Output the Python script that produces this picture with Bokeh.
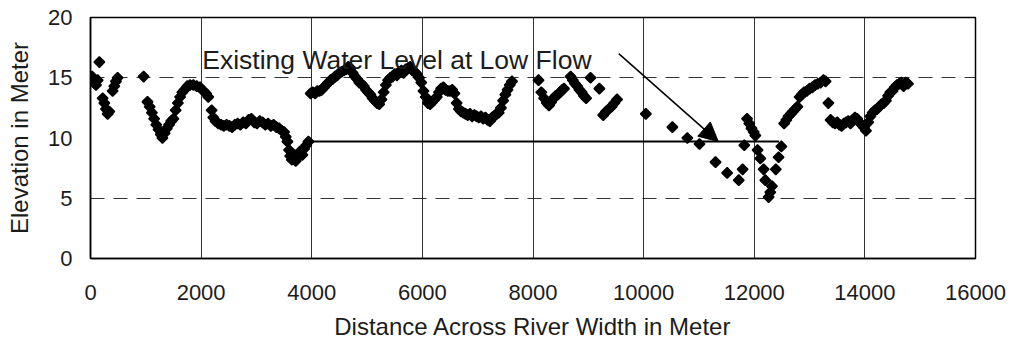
from bokeh.plotting import figure
from bokeh.models import Range1d, FixedTicker, Label, Arrow, NormalHead
from bokeh.embed import file_html
from bokeh.resources import INLINE

# Surveyed bed elevation across the river (distance in m, elevation in m)
dist_m = [
    0, 30, 60, 100, 130, 160,
    220, 250, 280, 310, 340,
    400, 430, 460, 490,
    960,
    1030, 1070, 1110, 1150, 1190, 1230, 1270, 1300,
    1340, 1380, 1420, 1460, 1500,
    1540, 1580, 1620, 1660, 1700, 1750, 1800, 1860, 1920, 1980, 2040, 2090, 2130,
    2190, 2220,
    2260, 2310, 2360, 2410, 2460, 2510, 2560, 2610, 2660, 2710, 2760, 2810, 2860,
    2910, 2960, 3010, 3060, 3110, 3160, 3210, 3260, 3310, 3360, 3410, 3460, 3500,
    3530, 3560, 3590, 3610, 3640, 3680, 3710, 3750, 3790, 3830, 3860, 3900, 3940,
    3980, 4020, 4060, 4100, 4140, 4180, 4220, 4260, 4300, 4340, 4380, 4420, 4460,
    4500, 4540, 4580, 4620, 4660, 4700, 4740, 4780, 4820, 4860, 4900, 4940, 4980,
    5020, 5060, 5100, 5140, 5180, 5220, 5260, 5300, 5340, 5380, 5420, 5460, 5500,
    5540, 5580, 5620, 5660, 5700, 5740, 5780, 5820, 5860, 5900, 5940, 5980,
    6020, 6060, 6100, 6140, 6180, 6220, 6260, 6300, 6340, 6380, 6420, 6460, 6500,
    6540, 6580, 6620, 6660, 6700, 6740, 6780, 6820, 6860, 6900, 6940, 6980, 7020,
    7060, 7100, 7140, 7180, 7220, 7260, 7300, 7340, 7380, 7420, 7460, 7500, 7540,
    7580, 7620,
    8100, 8150, 8200, 8250, 8290, 8330, 8370, 8410, 8450, 8490, 8530, 8560,
    8680, 8720, 8760, 8800, 8840, 8880, 8920, 8960,
    9040, 9200,
    9270, 9320, 9370, 9420, 9470, 9520,
    10040, 10520, 10790, 11010, 11300, 11510, 11720, 11790, 11820,
    11870, 11910, 11950, 11990, 12020, 12060, 12110, 12170, 12200,
    12260, 12290, 12320, 12390, 12440, 12490,
    12540, 12580, 12620, 12660, 12700, 12740, 12780,
    12820, 12860, 12900, 12950, 13000, 13050, 13100, 13150, 13200, 13250, 13290,
    13340,
    13380, 13420, 13460, 13500, 13540, 13580, 13620, 13660, 13700, 13740, 13780,
    13820, 13860, 13900, 13940, 13980, 14020,
    14060, 14100, 14140, 14180, 14220, 14260, 14300, 14340, 14380, 14420, 14460,
    14500, 14540, 14580, 14620, 14660, 14700, 14740, 14780,
]
elev_m = [
    14.9, 15.1, 14.6, 14.4, 14.8, 16.3,
    13.3, 12.9, 12.4, 12.0, 12.2,
    13.9, 14.3, 14.7, 15.0,
    15.1,
    13.0, 12.6, 12.1, 11.6, 11.1, 10.7, 10.3, 10.0,
    10.4, 10.8, 11.1, 11.4, 11.6,
    12.3, 12.9, 13.4, 13.8, 14.0, 14.3, 14.4, 14.4, 14.3, 14.2, 13.9, 13.7, 13.4,
    12.3, 11.7,
    11.4, 11.2, 11.1, 11.0, 11.1, 11.0, 10.9, 11.1, 11.2, 11.1, 11.3, 11.2, 11.5,
    11.6, 11.3, 11.2, 11.4, 11.3, 11.1, 11.2, 11.0, 11.1, 10.9, 10.8, 10.6, 10.5,
    10.1, 9.7, 9.0, 8.5, 8.2, 8.6, 8.1, 8.5, 8.9, 8.6, 9.1, 9.4, 9.7,
    13.7, 13.8, 13.7, 13.9, 13.9, 14.0, 14.2, 14.4, 14.6, 14.8, 14.9, 15.1, 15.2,
    15.4, 15.5, 15.6, 15.7, 15.9, 15.8, 15.4, 15.1, 14.9, 14.6, 14.5, 14.3, 14.0,
    13.8, 13.6, 13.3, 13.1, 12.9, 12.8, 13.2, 13.8, 14.4, 14.8, 15.0, 15.1, 15.3,
    15.2, 15.5, 15.6, 15.4, 15.7, 15.8, 15.9, 15.6, 15.5, 15.3, 15.0, 14.6,
    13.9, 13.4, 12.9, 12.8, 13.0, 13.2, 13.4, 13.8, 14.1, 14.2, 14.0, 13.9, 13.9,
    14.0, 13.7, 12.9, 12.4, 12.2, 12.1, 12.0, 11.9, 12.0, 11.8, 11.9, 11.8, 11.7,
    11.8, 11.6, 11.7, 11.5, 11.4, 11.7, 11.8, 12.0, 12.1, 12.5, 13.1, 13.6, 14.0,
    14.4, 14.7,
    14.8, 13.8, 13.3, 12.9, 12.7, 13.0, 13.3, 13.5, 13.6, 13.8, 14.0, 14.1,
    15.1, 14.8, 14.5, 14.3, 14.0, 13.8, 13.5, 13.3,
    15.0, 14.1,
    11.9, 12.2, 12.4, 12.6, 12.9, 13.2,
    12.0, 10.9, 10.0, 9.5, 8.0, 7.1, 6.5, 7.4, 9.4,
    11.6, 11.2, 10.8, 10.5, 10.2, 9.0, 8.3, 7.4, 6.5,
    5.1, 5.5, 6.0, 7.4, 8.4, 9.3,
    11.2, 11.5, 11.8, 12.0, 12.2, 12.4, 12.6,
    13.4, 13.6, 13.8, 13.9, 14.1, 14.2, 14.4, 14.5, 14.6, 14.8, 14.7,
    12.9,
    11.5, 11.3, 11.2, 11.3, 11.1, 11.0, 11.2, 11.3, 11.4, 11.2, 11.5,
    11.7, 11.6, 11.3, 11.1, 10.9, 10.6,
    11.3, 11.8, 12.1, 12.3, 12.4, 12.6, 12.8, 12.9, 13.1, 13.5, 13.8,
    13.9, 14.2, 14.4, 14.5, 14.6, 14.3, 14.6, 14.5,
]

# Existing water level at low flow
water_x = [3950, 12450]
water_y = [9.7, 9.7]

x_ticks = [0, 2000, 4000, 6000, 8000, 10000, 12000, 14000, 16000]
y_ticks = [0, 5, 10, 15, 20]
y_grid_levels = [5, 15]

FONT = "Liberation Sans"
INK = "#1c1c1c"

p = figure(width=1012, height=345, output_backend="svg", toolbar_location=None,
           x_range=Range1d(0, 16000), y_range=Range1d(0, 20),
           min_border_left=90, min_border_right=37,
           min_border_top=17, min_border_bottom=87)
p.background_fill_color = "white"
p.border_fill_color = "white"
p.outline_line_color = "black"
p.outline_line_width = 1.5

p.xaxis.ticker = FixedTicker(ticks=x_ticks)
p.yaxis.ticker = FixedTicker(ticks=y_ticks)

for ax in (p.xaxis, p.yaxis):
    ax.axis_line_color = "black"
    ax.axis_line_width = 1.5
    ax.major_tick_in = 0
    ax.major_tick_out = 0
    ax.minor_tick_line_color = None
    ax.major_label_text_font = FONT
    ax.major_label_text_font_size = "22px"
    ax.major_label_text_color = INK
    ax.axis_label_text_font = FONT
    ax.axis_label_text_font_size = "24px"
    ax.axis_label_text_font_style = "normal"
    ax.axis_label_text_color = INK

p.xaxis.axis_label = "Distance Across River Width in Meter"
p.yaxis.axis_label = "Elevation in Meter"
p.xaxis.major_label_standoff = 26
p.xaxis.axis_label_standoff = 10
p.yaxis.major_label_standoff = 18
p.yaxis.axis_label_standoff = 12

p.xgrid.grid_line_color = "black"
p.xgrid.grid_line_width = 1
p.xgrid.grid_line_alpha = 0.8
p.ygrid.ticker = FixedTicker(ticks=y_grid_levels)
p.ygrid.grid_line_color = "black"
p.ygrid.grid_line_width = 1
p.ygrid.grid_line_dash = "14 9"
p.ygrid.grid_line_alpha = 0.8

p.line(water_x, water_y, line_color="black", line_width=2)

p.scatter(dist_m, elev_m, marker="square", angle=0.785398, size=7.5,
          fill_color="black", line_color="black", line_width=1.5)

p.add_layout(Label(x=2020, y=16.45, text="Existing Water Level at Low Flow",
                   text_font=FONT, text_font_size="26.5px", text_color=INK,
                   text_baseline="alphabetic"))
p.add_layout(Arrow(end=NormalHead(size=19, fill_color="black", line_color="black"),
                   x_start=9550, y_start=17.0, x_end=11350, y_end=9.7,
                   line_color="black", line_width=1.5))

open("out.html", "w").write(file_html(p, INLINE))
